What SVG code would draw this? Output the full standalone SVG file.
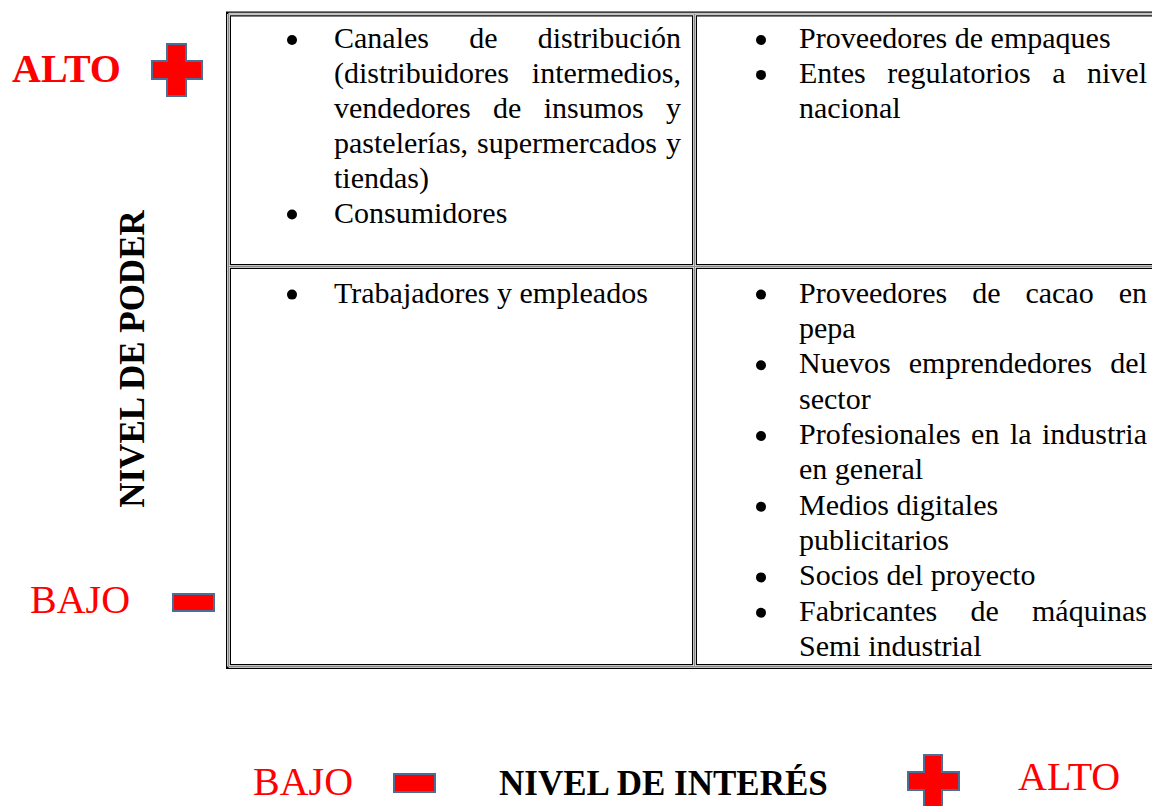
<svg xmlns="http://www.w3.org/2000/svg" width="1152" height="806" viewBox="0 0 1152 806">
<style>
.t{font-family:"Liberation Serif","Times New Roman",serif;font-size:30px;fill:#000}
.lab{font-family:"Liberation Serif","Times New Roman",serif;font-size:40px;fill:#ff0000}
.b{font-weight:bold}
.ax{font-family:"Liberation Serif","Times New Roman",serif;font-size:35px;font-weight:bold;fill:#000}
.sym{fill:#ff0000;stroke:#4a6e98;stroke-width:2}
.bk{stroke:#000;stroke-width:5;fill:none}
.wh{stroke:#fff;stroke-width:2.6;fill:none}
.gr{stroke:#8a8a8a;stroke-width:1.2;fill:none}
</style>
<rect width="1152" height="806" fill="#fff"/>
<g id="grid">
<path class="bk" d="M226 14H1160M226 266.5H1160M226 666.5H1160M228.5 11.5V669M694.5 11.5V669"/>
<path class="wh" d="M228.5 14H1160M228.5 266.5H1160M228.5 666.5H1160M228.5 14V666.5M694.5 14V666.5"/>
<path class="gr" d="M228.5 14H1160M228.5 266.5H1160M228.5 666.5H1160M228.5 14V666.5M694.5 14V666.5"/>
</g>
<g id="cell-alto-bajo">
<circle cx="292" cy="40" r="5"/>
<text class="t" y="48"><tspan x="334">Canales</tspan><tspan x="469.2">de</tspan><tspan x="681" text-anchor="end">distribución</tspan></text>
<text class="t" y="82.9"><tspan x="334">(distribuidores</tspan><tspan x="681" text-anchor="end">intermedios,</tspan></text>
<text class="t" y="117.8"><tspan x="334">vendedores</tspan><tspan x="493">de</tspan><tspan x="543.7">insumos</tspan><tspan x="681" text-anchor="end">y</tspan></text>
<text class="t" y="152.7"><tspan x="334">pastelerías,</tspan><tspan x="477.1">supermercados</tspan><tspan x="681" text-anchor="end">y</tspan></text>
<text class="t" x="334" y="187.6">tiendas)</text>
<circle cx="292" cy="214.5" r="5"/>
<text class="t" x="334" y="222.5">Consumidores</text>
</g>
<g id="cell-alto-alto">
<circle cx="761" cy="40" r="5"/>
<text class="t" x="799" y="48">Proveedores de empaques</text>
<circle cx="761" cy="74.9" r="5"/>
<text class="t" y="82.9"><tspan x="799">Entes</tspan><tspan x="887.3">regulatorios</tspan><tspan x="1052.2">a</tspan><tspan x="1147" text-anchor="end">nivel</tspan></text>
<text class="t" x="799" y="117.8">nacional</text>
</g>
<g id="cell-bajo-bajo">
<circle cx="292" cy="294.6" r="5"/>
<text class="t" x="334" y="302.6">Trabajadores y empleados</text>
</g>
<g id="cell-bajo-alto">
<circle cx="761" cy="294.6" r="5"/>
<text class="t" y="302.6"><tspan x="799">Proveedores</tspan><tspan x="972.2">de</tspan><tspan x="1025.4">cacao</tspan><tspan x="1147" text-anchor="end">en</tspan></text>
<text class="t" x="799" y="338">pepa</text>
<circle cx="761" cy="365.3" r="5"/>
<text class="t" y="373.3"><tspan x="799">Nuevos</tspan><tspan x="908.8">emprendedores</tspan><tspan x="1147" text-anchor="end">del</tspan></text>
<text class="t" x="799" y="408.6">sector</text>
<circle cx="761" cy="436" r="5"/>
<text class="t" y="444"><tspan x="799">Profesionales</tspan><tspan x="971.1">en</tspan><tspan x="1009.9">la</tspan><tspan x="1147" text-anchor="end">industria</tspan></text>
<text class="t" x="799" y="479.4">en general</text>
<circle cx="761" cy="506.7" r="5"/>
<text class="t" x="799" y="514.7">Medios digitales</text>
<text class="t" x="799" y="550.1">publicitarios</text>
<circle cx="761" cy="577.4" r="5"/>
<text class="t" x="799" y="585.4">Socios del proyecto</text>
<circle cx="761" cy="612.8" r="5"/>
<text class="t" y="620.8"><tspan x="799">Fabricantes</tspan><tspan x="970.5">de</tspan><tspan x="1147" text-anchor="end">máquinas</tspan></text>
<text class="t" x="799" y="656.1">Semi industrial</text>
</g>
<g id="axis-poder">
<text class="lab b" x="12" y="81.7">ALTO</text>
<path class="sym" d="M167 44H186V61H202V79H186V96H167V79H152V61H167Z"/>
<text class="ax" transform="translate(144,359) rotate(-90)" text-anchor="middle">NIVEL DE PODER</text>
<text class="lab" x="30" y="613.3">BAJO</text>
<rect class="sym" x="173" y="594" width="41" height="17"/>
</g>
<g id="axis-interes">
<text class="lab" x="253" y="795">BAJO</text>
<rect class="sym" x="394" y="774" width="41" height="18"/>
<text class="ax" x="499" y="795">NIVEL DE INTERÉS</text>
<path class="sym" d="M924 755H942V772H959V790H942V808H924V790H908V772H924Z"/>
<text class="lab" x="1018" y="790">ALTO</text>
</g>
</svg>
